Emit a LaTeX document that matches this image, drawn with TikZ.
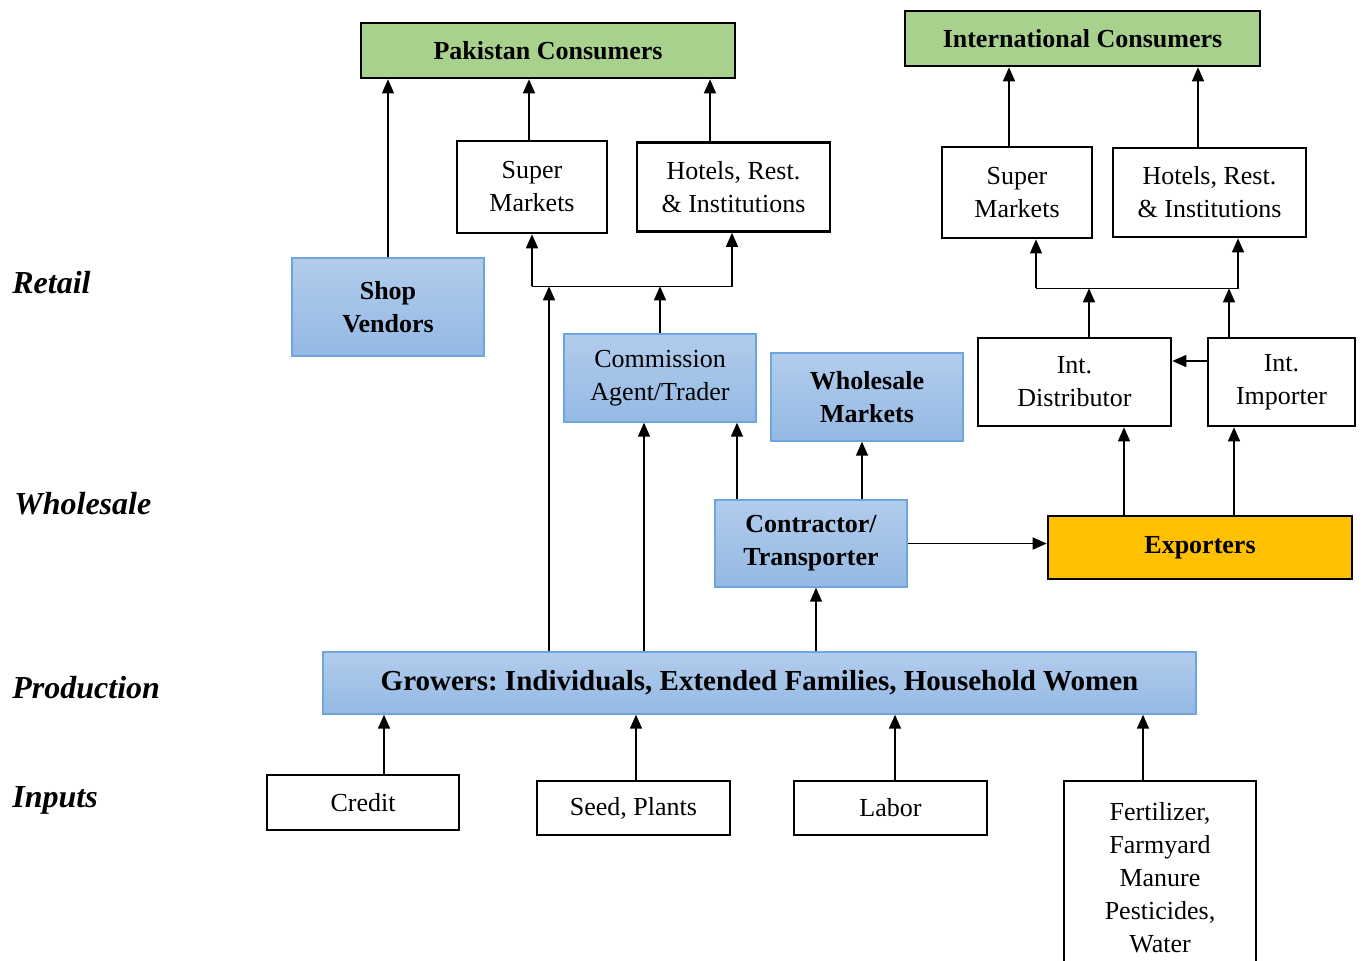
\documentclass[tikz,border=0pt]{standalone}
\usepackage{fontspec}
\setmainfont{Liberation Serif}
\usetikzlibrary{positioning,arrows.meta}
\frenchspacing

\begin{document}
\begin{tikzpicture}[
        x=0.5pt, y=-0.5pt,
        outlet/.style={
                rectangle,
                draw=black,
                fill=white,
                line width=1.3pt,
                align=center,
                inner sep=0pt,
                minimum width=96.5pt,
                minimum height=44.5pt,
                font=\fontsize{13}{16.5}\selectfont
            },
        consumer/.style={
                outlet,
                fill=leafgreen,
                minimum width=187pt,
                minimum height=27.5pt,
                font=\fontsize{13}{16.5}\selectfont\bfseries
            },
        exporter/.style={
                outlet,
                fill=amber,
                minimum width=152pt,
                minimum height=31.5pt,
                font=\fontsize{13}{16.5}\selectfont\bfseries
            },
        agent/.style={
                rectangle,
                draw=edgeblue,
                line width=0.7pt,
                top color=topblue,
                bottom color=lowblue,
                align=center,
                inner sep=0pt,
                minimum width=96pt,
                minimum height=44pt,
                font=\fontsize{13}{16.5}\selectfont\bfseries
            },
        level/.style={anchor=west, inner sep=0pt, font=\fontsize{16}{18}\selectfont\bfseries\itshape},
        link/.style={line width=0.75pt},
        >={Triangle[length=7pt,width=6pt]}
    ]
    \definecolor{leafgreen}{RGB}{169,209,142}
    \definecolor{amber}{RGB}{255,192,0}
    \definecolor{edgeblue}{RGB}{110,165,220}
    \definecolor{topblue}{RGB}{178,204,236}
    \definecolor{lowblue}{RGB}{148,185,228}
    \useasboundingbox (0,0) rectangle (1365,960);

    % level labels
    \node[level] (retail)     at (12,283) {Retail};
    \node[level] (wholesale)  at (14,504) {Wholesale};
    \node[level] (production) at (12,688) {Production};
    \node[level] (inputs)     at (12,800) {Inputs};

    % consumers
    \node[consumer] (pakcons) at (548,50.5) {Pakistan Consumers};
    \node[consumer, minimum width=177.5pt] (intcons) at (1082.5,38.5) {International Consumers};

    % retail outlets
    \node[outlet, minimum width=75pt, minimum height=46pt] (smPK) at (532,187) {Super\\Markets};
    \node[outlet] (hotPK) [right=13.7pt of smPK] {Hotels, Rest.\\\& Institutions};
    \node[outlet, minimum width=75pt, minimum height=45.5pt] (smInt) at (1017,192.5) {Super\\Markets};
    \node[outlet] (hotInt) [right=9.2pt of smInt] {Hotels, Rest.\\\& Institutions};
    \node[agent, minimum height=49pt] (shop) at (388,307) {Shop\\Vendors};

    % wholesale
    \node[agent, font=\fontsize{13}{16.5}\selectfont] (comm) at (660,378) {Commission\\Agent/Trader};
    \node[agent] (whole) [right=6.8pt of comm, yshift=-9.5pt] {Wholesale\\Markets};
    \node[outlet, minimum height=44pt] (dist) at (1074.5,382) {Int.\\Distributor};
    \node[outlet, minimum width=73.5pt, minimum height=44pt] (imp) [right=17.2pt of dist] {Int.\\Importer};
    \node[agent, minimum height=43.5pt] (contr) at (811,543.5) {Contractor/\\Transporter};
    \node[exporter] (exp) at (1200,547.5) {Exporters};

    % production
    \node[agent, minimum width=436.5pt, minimum height=31pt, font=\fontsize{14.5}{16}\selectfont\bfseries] (grow) at (759.5,683) {Growers: Individuals, Extended Families, Household Women};

    % inputs
    \node[outlet, minimum width=96pt, minimum height=27.5pt] (credit) at (363,802.5) {Credit};
    \node[outlet, minimum height=27pt] (seed) [right=37.7pt of credit, yshift=-2.75pt] {Seed, Plants};
    \node[outlet, minimum height=27pt] (labor) [right=30.7pt of seed] {Labor};
    \node[outlet, minimum width=96pt, minimum height=97pt] (fert) [below right=0pt and 37.2pt of labor.north east] {Fertilizer,\\Farmyard\\Manure\\Pesticides,\\Water};

    % junctions
    \coordinate[below=26pt of smPK.south] (pkbar);
    \coordinate[below=24.5pt of smInt.south, xshift=9.5pt] (intbar);

    % inputs to growers
    \draw[link,->] ([xshift=10.5pt]credit.north) -- ([xshift=10.5pt]credit.north |- grow.south);
    \draw[link,->] ([xshift=1.25pt]seed.north) -- ([xshift=1.25pt]seed.north |- grow.south);
    \draw[link,->] ([xshift=2.25pt]labor.north) -- ([xshift=2.25pt]labor.north |- grow.south);
    \draw[link,->] ([xshift=-8.5pt]fert.north) -- ([xshift=-8.5pt]fert.north |- grow.south);

    % growers upwards
    \draw[link,->] ([xshift=2.5pt]contr.south |- grow.north) -- ([xshift=2.5pt]contr.south);
    \draw[link,->] ([xshift=-8pt]comm.south |- grow.north) -- ([xshift=-8pt]comm.south);
    \draw[link,->] ([xshift=8.5pt]smPK.south |- grow.north) -- ([xshift=8.5pt]smPK.south |- pkbar);

    % contractor
    \draw[link,->] ([xshift=-37pt]contr.north) -- ([xshift=-37pt]contr.north |- comm.south);
    \draw[link,->] ([xshift=25.5pt]contr.north) -- ([xshift=25.5pt]contr.north |- whole.south);
    \draw[link,->] (contr.east) -- (contr.east -| exp.west);

    % export chain
    \draw[link,->] ([xshift=24.75pt]dist.south |- exp.north) -- ([xshift=24.75pt]dist.south);
    \draw[link,->] ([xshift=-23.75pt]imp.south |- exp.north) -- ([xshift=-23.75pt]imp.south);
    \draw[link,->] ([yshift=10.5pt]imp.west) -- ([yshift=10.5pt]imp.west -| dist.east);
    \draw[link,->] ([xshift=7.25pt]dist.north) -- ([xshift=7.25pt]dist.north |- intbar);
    \draw[link,->] ([xshift=-26.25pt]imp.north) -- ([xshift=-26.25pt]imp.north |- intbar);

    % pakistan retail
    \draw[link,->] (comm.north) -- (comm.north |- pkbar);
    \draw[link,->] (pkbar) -- (smPK.south);
    \draw[link,->] (pkbar) -| ([xshift=-0.75pt]hotPK.south);
    \draw[link,->] (shop.north) -- (shop.north |- pakcons.south);
    \draw[link,->] ([xshift=-1.5pt]smPK.north) -- ([xshift=-1.5pt]smPK.north |- pakcons.south);
    \draw[link,->] ([xshift=-11.75pt]hotPK.north) -- ([xshift=-11.75pt]hotPK.north |- pakcons.south);

    % international retail
    \draw[link,->] (intbar) -- (intbar |- smInt.south);
    \draw[link,->] (intbar) -| ([xshift=14.25pt]hotInt.south);
    \draw[link,->] ([xshift=-4pt]smInt.north) -- ([xshift=-4pt]smInt.north |- intcons.south);
    \draw[link,->] ([xshift=-5.75pt]hotInt.north) -- ([xshift=-5.75pt]hotInt.north |- intcons.south);
\end{tikzpicture}
\end{document}
